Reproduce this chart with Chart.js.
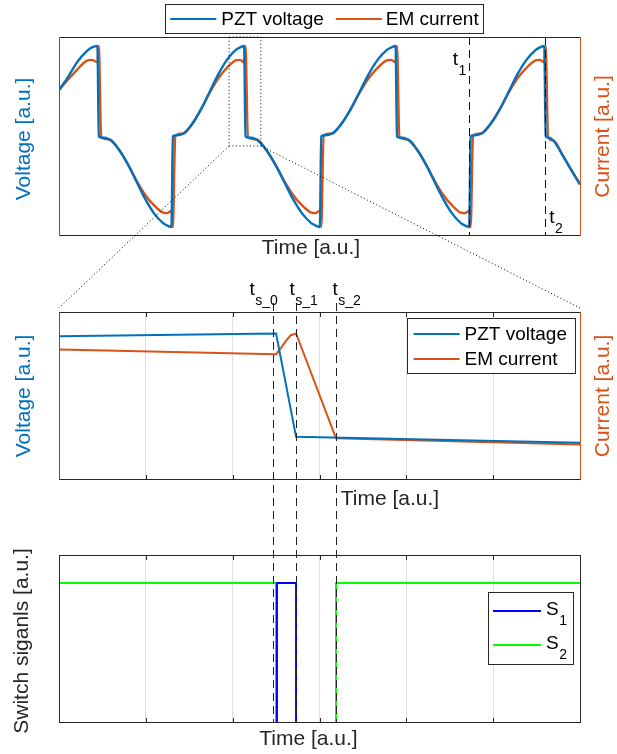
<!DOCTYPE html>
<html lang="en">
<head>
<meta charset="utf-8">
<title>PZT voltage / EM current switching</title>
<script src="https://cdn.jsdelivr.net/npm/chart.js@4.4.0/dist/chart.umd.min.js"></script>
<style>
  html,body{margin:0;padding:0;background:#fff;}
  #wrap{position:relative;width:617px;height:754px;}
  #wrap canvas{position:absolute;left:0;}
  #overlay{pointer-events:none;}
</style>
</head>
<body>
<div id="wrap">
  <canvas id="topChart" width="617" height="260" style="top:0"></canvas>
  <canvas id="midChart" width="617" height="250" style="top:260px"></canvas>
  <canvas id="botChart" width="617" height="244" style="top:510px"></canvas>
  <canvas id="overlay" width="617" height="754" style="top:0"></canvas>
</div>
<script>
/* ---------- data ---------- */
const seriesNames = ['PZT voltage', 'EM current'];
const switchNames = ['S', 'S'];
const switchSubs  = ['1', '2'];

// top panel: several switching periods (time and levels in a.u.)
const topTime = [
  0, 8.5, 18, 27.5, 33,
  38.4, 39.8, 42.2,
  50.6, 59.8, 68.9, 77.3, 85.7, 94.8, 104.0, 108.2,
  112.4, 113.8, 116.2,
  124.5, 133.4, 142.3, 150.6, 158.9, 167.8, 176.7, 180.9,
  185.0, 186.4, 188.8,
  197.4, 206.8, 216.1, 224.8, 233.4, 242.7, 252.1, 256.4,
  260.7, 262.1, 264.5,
  273.1, 282.5, 291.8, 300.5, 309.1, 318.4, 327.8, 332.1,
  336.4, 337.8, 340.2,
  348.6, 357.7, 366.7, 375.1, 383.5, 392.6, 401.6, 405.8,
  410.0, 411.4, 413.8,
  422.3, 431.6, 440.9, 449.4, 457.9, 467.2, 476.5, 480.7,
  485.0, 486.4, 488.8,
  494, 504, 514, 520.7
];
const topVoltage = [
  0.467, 0.59, 0.745, 0.855, 0.895,
  0.91, 0.0, -0.01,
  -0.03, -0.13, -0.28, -0.45, -0.62, -0.77, -0.87, -0.895,
  -0.91, 0.0, 0.01,
  0.03, 0.13, 0.28, 0.45, 0.62, 0.77, 0.87, 0.895,
  0.91, 0.0, -0.01,
  -0.03, -0.13, -0.28, -0.45, -0.62, -0.77, -0.87, -0.895,
  -0.91, 0.0, 0.01,
  0.03, 0.13, 0.28, 0.45, 0.62, 0.77, 0.87, 0.895,
  0.91, 0.0, -0.01,
  -0.03, -0.13, -0.28, -0.45, -0.62, -0.77, -0.87, -0.895,
  -0.91, 0.0, 0.01,
  0.03, 0.13, 0.28, 0.45, 0.62, 0.77, 0.87, 0.895,
  0.91, 0.0, -0.01,
  -0.04, -0.2, -0.37, -0.48
];
const topCurrent = [
  0.467, 0.565, 0.67, 0.76, 0.77,
  0.745, 0.91, -0.01,
  -0.03, -0.13, -0.28, -0.44, -0.58, -0.69, -0.765, -0.77,
  -0.745, -0.91, 0.01,
  0.03, 0.13, 0.28, 0.44, 0.58, 0.69, 0.765, 0.77,
  0.745, 0.91, -0.01,
  -0.03, -0.13, -0.28, -0.44, -0.58, -0.69, -0.765, -0.77,
  -0.745, -0.91, 0.01,
  0.03, 0.13, 0.28, 0.44, 0.58, 0.69, 0.765, 0.77,
  0.745, 0.91, -0.01,
  -0.03, -0.13, -0.28, -0.44, -0.58, -0.69, -0.765, -0.77,
  -0.745, -0.91, 0.01,
  0.03, 0.13, 0.28, 0.44, 0.58, 0.69, 0.765, 0.77,
  0.745, 0.91, -0.01,
  -0.04, -0.2, -0.37, -0.48
];
const markerTimes = [410.0, 485.6];       // t1, t2
const markerSubs  = ['1', '2'];
const zoomTime  = [170, 201.7];           // dotted zoom window
const zoomLevel = [-0.095, 1.0];

// middle panel: one switching event
const midVoltTime = [0, 2.50, 2.73, 6];
const midVolt     = [8.56, 8.72, 2.57, 2.22];
const midCurrTime = [0, 2.50, 2.56, 2.62, 2.67, 2.73, 3.19, 6];
const midCurr     = [7.77, 7.49, 7.88, 8.32, 8.62, 8.72, 2.48, 2.12];
const tsTimes = [2.47, 2.73, 3.19];
const tsSubs  = ['s_0', 's_1', 's_2'];

// bottom panel: switch signals
const s1Time  = [0, 2.51, 2.73, 6];
const s1Level = [0, 1, 0, 0];
const s2Time  = [0, 2.50, 3.19, 6];
const s2Level = [1, 0, 1, 1];

/* ---------- styling helpers ---------- */
const BLUE = '#0072BD', ORANGE = '#D95319', AX = '#262626', GRID = '#dfdfdf';
const FONT = '"Liberation Sans", Arial, Helvetica, sans-serif';
Chart.defaults.font.family = FONT;

const pts = (xs, ys) => xs.map((x, i) => ({x: x, y: ys[i]}));

function frame(chart, leftColor, rightColor) {
  const {ctx, chartArea: a} = chart;
  const L = Math.round(a.left) + 0.5, R = Math.round(a.right) + 0.5;
  const T = Math.round(a.top) + 0.5, B = Math.round(a.bottom) - 0.5;
  ctx.save();
  ctx.lineWidth = 1; ctx.setLineDash([]);
  ctx.strokeStyle = AX;
  ctx.beginPath(); ctx.moveTo(L, T); ctx.lineTo(R, T); ctx.moveTo(L, B); ctx.lineTo(R, B); ctx.stroke();
  ctx.strokeStyle = leftColor;
  ctx.beginPath(); ctx.moveTo(L, T); ctx.lineTo(L, B); ctx.stroke();
  ctx.strokeStyle = rightColor;
  ctx.beginPath(); ctx.moveTo(R, T); ctx.lineTo(R, B); ctx.stroke();
  ctx.restore();
}

function tickMarks(chart) {
  const {ctx, chartArea: a, scales: {x}} = chart;
  ctx.save();
  ctx.strokeStyle = AX; ctx.lineWidth = 1;
  ctx.beginPath();
  x.ticks.forEach(t => {
    const px = Math.round(x.getPixelForValue(t.value)) + 0.5;
    ctx.moveTo(px, a.bottom); ctx.lineTo(px, a.bottom - 5);
    ctx.moveTo(px, a.top); ctx.lineTo(px, a.top + 5);
  });
  ctx.stroke();
  ctx.restore();
}

function label(ctx, text, x, y, color, rot) {
  ctx.save();
  ctx.translate(x, y);
  if (rot) ctx.rotate(rot);
  ctx.font = '21px ' + FONT;
  ctx.fillStyle = color; ctx.textAlign = 'center'; ctx.textBaseline = 'middle';
  ctx.fillText(text, 0, 0);
  ctx.restore();
}

// base text with a subscript; x = left edge, y = baseline
function subText(ctx, base, sub, x, y, color) {
  ctx.save();
  ctx.fillStyle = color; ctx.textAlign = 'left'; ctx.textBaseline = 'alphabetic';
  ctx.font = '19px ' + FONT;
  ctx.fillText(base, x, y);
  const w = ctx.measureText(base).width;
  ctx.font = '14px ' + FONT;
  ctx.fillText(sub, x + w + 0.5, y + 9.5);
  ctx.restore();
}

function legendBox(ctx, x, y, w, h) {
  ctx.save();
  ctx.fillStyle = '#fff'; ctx.fillRect(x, y, w, h);
  ctx.strokeStyle = AX; ctx.lineWidth = 1; ctx.setLineDash([]);
  ctx.strokeRect(Math.round(x) + 0.5, Math.round(y) + 0.5, Math.round(w), Math.round(h));
  ctx.restore();
}

function legendLine(ctx, x0, x1, y, color) {
  ctx.save();
  ctx.strokeStyle = color; ctx.lineWidth = 2; ctx.setLineDash([]);
  ctx.beginPath(); ctx.moveTo(x0, y); ctx.lineTo(x1, y); ctx.stroke();
  ctx.restore();
}

/* ---------- top panel ---------- */
const topChart = new Chart(document.getElementById('topChart'), {
  type: 'line',
  data: {
    datasets: [
      {label: seriesNames[0], data: pts(topTime, topVoltage), borderColor: BLUE, borderWidth: 2.4, yAxisID: 'y'},
      {label: seriesNames[1], data: pts(topTime, topCurrent), borderColor: ORANGE, borderWidth: 2.4, yAxisID: 'y1'}
    ]
  },
  options: {
    responsive: false, animation: false, events: [],
    layout: {autoPadding: false, padding: {left: 59, right: 37, top: 37, bottom: 24}},
    elements: {point: {radius: 0}, line: {cubicInterpolationMode: 'monotone', fill: false}},
    plugins: {legend: {display: false}, tooltip: {enabled: false}},
    scales: {
      x: {type: 'linear', min: 0, max: 520.7, display: false},
      y: {min: -1, max: 1, display: false},
      y1: {min: -1, max: 1, display: false, position: 'right'}
    }
  },
  plugins: [{
    id: 'topDecor',
    afterDatasetsDraw(chart) {
      const {ctx, chartArea: a, scales: {x}} = chart;
      // t1 / t2 markers
      ctx.save();
      ctx.strokeStyle = '#111'; ctx.lineWidth = 1; ctx.setLineDash([8, 5]);
      markerTimes.forEach(t => {
        const px = Math.round(x.getPixelForValue(t)) + 0.5;
        ctx.beginPath(); ctx.moveTo(px, a.top); ctx.lineTo(px, a.bottom); ctx.stroke();
      });
      ctx.restore();
      const m1 = x.getPixelForValue(markerTimes[0]), m2 = x.getPixelForValue(markerTimes[1]);
      subText(ctx, 't', markerSubs[0], m1 - 16.6, a.top + 28, '#000');
      subText(ctx, 't', markerSubs[1], m2 + 4.3, a.bottom - 13, '#000');

      frame(chart, BLUE, ORANGE);

      // horizontal legend above the axes
      ctx.font = '19px ' + FONT;
      const w1 = ctx.measureText(seriesNames[0]).width, w2 = ctx.measureText(seriesNames[1]).width;
      const bw = 5 + 46 + 5 + w1 + 12 + 46 + 4 + w2 + 5, bh = 29;
      const bx = (a.left + a.right) / 2 + 5 - bw / 2, by = a.top - 33;
      legendBox(ctx, bx, by, bw, bh);
      const ly = by + 15;
      legendLine(ctx, bx + 5, bx + 51, ly, BLUE);
      legendLine(ctx, bx + 68 + w1, bx + 114 + w1, ly, ORANGE);
      ctx.save();
      ctx.fillStyle = '#000'; ctx.textAlign = 'left'; ctx.textBaseline = 'middle'; ctx.font = '19px ' + FONT;
      ctx.fillText(seriesNames[0], bx + 56, ly + 1);
      ctx.fillText(seriesNames[1], bx + 118 + w1, ly + 1);
      ctx.restore();

      const cy = (a.top + a.bottom) / 2;
      label(ctx, 'Time [a.u.]', 311, a.bottom + 12, AX);
      label(ctx, 'Voltage [a.u.]', 24, cy + 2.5, BLUE, -Math.PI / 2);
      label(ctx, 'Current [a.u.]', 603, cy, ORANGE, -Math.PI / 2);
    }
  }]
});

/* ---------- middle panel ---------- */
const gridX = {
  type: 'linear', min: 0, max: 6,
  ticks: {display: false, stepSize: 1},
  grid: {color: GRID, lineWidth: 1, drawTicks: false},
  border: {display: false}
};

const midChart = new Chart(document.getElementById('midChart'), {
  type: 'line',
  data: {
    datasets: [
      {label: seriesNames[0], data: pts(midVoltTime, midVolt), borderColor: BLUE, borderWidth: 2, yAxisID: 'y'},
      {label: seriesNames[1], data: pts(midCurrTime, midCurr), borderColor: ORANGE, borderWidth: 2, yAxisID: 'y1'}
    ]
  },
  options: {
    responsive: false, animation: false, events: [],
    layout: {autoPadding: false, padding: {left: 59, right: 37, top: 52, bottom: 30}},
    elements: {point: {radius: 0}, line: {tension: 0, fill: false}},
    plugins: {legend: {display: false}, tooltip: {enabled: false}},
    scales: {
      x: gridX,
      y: {min: 0, max: 10, display: false},
      y1: {min: 0, max: 10, display: false, position: 'right'}
    }
  },
  plugins: [{
    id: 'midDecor',
    afterDatasetsDraw(chart) {
      const {ctx, chartArea: a} = chart;
      tickMarks(chart);
      frame(chart, BLUE, ORANGE);

      ctx.font = '19px ' + FONT;
      const tw = Math.max(ctx.measureText(seriesNames[0]).width, ctx.measureText(seriesNames[1]).width);
      const bw = 7 + 46 + 5 + tw + 8, bh = 55;
      const bx = a.right - 5 - bw, by = a.top + 6;
      legendBox(ctx, bx, by, bw, bh);
      [BLUE, ORANGE].forEach((c, i) => {
        const ry = by + 16 + i * 25;
        legendLine(ctx, bx + 7, bx + 53, ry, c);
        ctx.save();
        ctx.fillStyle = '#000'; ctx.textAlign = 'left'; ctx.textBaseline = 'middle'; ctx.font = '19px ' + FONT;
        ctx.fillText(seriesNames[i], bx + 58, ry + 1);
        ctx.restore();
      });

      const cy = (a.top + a.bottom) / 2;
      label(ctx, 'Time [a.u.]', 390, a.bottom + 19, AX);
      label(ctx, 'Voltage [a.u.]', 24, cy, BLUE, -Math.PI / 2);
      label(ctx, 'Current [a.u.]', 603, cy, ORANGE, -Math.PI / 2);
    }
  }]
});

/* ---------- bottom panel ---------- */
const botChart = new Chart(document.getElementById('botChart'), {
  type: 'line',
  data: {
    datasets: [
      {label: 'S1', data: pts(s1Time, s1Level), borderColor: '#0000FF', borderWidth: 2, stepped: 'before', clip: 0},
      {label: 'S2', data: pts(s2Time, s2Level), borderColor: '#00FF00', borderWidth: 2, stepped: 'before', clip: 0}
    ]
  },
  options: {
    responsive: false, animation: false, events: [],
    layout: {autoPadding: false, padding: {left: 59, right: 37, top: 45, bottom: 31}},
    elements: {point: {radius: 0}, line: {tension: 0, fill: false}},
    plugins: {legend: {display: false}, tooltip: {enabled: false}},
    scales: {
      x: gridX,
      y: {min: 0, max: 1.2, display: false}
    }
  },
  plugins: [{
    id: 'botDecor',
    afterDatasetsDraw(chart) {
      const {ctx, chartArea: a} = chart;
      tickMarks(chart);
      frame(chart, AX, AX);

      const bw = 85, bh = 72;
      const bx = a.right - 7 - bw, by = a.top + 37;
      legendBox(ctx, bx, by, bw, bh);
      ['#0000FF', '#00FF00'].forEach((c, i) => {
        const ry = by + 19 + i * 34;
        legendLine(ctx, bx + 5, bx + 53, ry, c);
        subText(ctx, switchNames[i], switchSubs[i], bx + 58, ry + 4, '#000');
      });

      label(ctx, 'Time [a.u.]', 308.5, a.bottom + 16, AX);
      label(ctx, 'Switch siganls [a.u.]', 22.5, (a.top + a.bottom) / 2 + 2, AX, -Math.PI / 2);
    }
  }]
});

/* ---------- zoom connectors and switching instants across panels ---------- */
(function drawOverlay() {
  const ctx = document.getElementById('overlay').getContext('2d');
  const oT = topChart.canvas.offsetTop, oM = midChart.canvas.offsetTop, oB = botChart.canvas.offsetTop;
  const tx = topChart.scales.x, ty = topChart.scales.y;
  const x0 = tx.getPixelForValue(zoomTime[0]), x1 = tx.getPixelForValue(zoomTime[1]);
  const y0 = oT + ty.getPixelForValue(zoomLevel[1]), y1 = oT + ty.getPixelForValue(zoomLevel[0]);
  const ma = midChart.chartArea, ba = botChart.chartArea;

  ctx.save();
  ctx.strokeStyle = '#000'; ctx.lineWidth = 1; ctx.setLineDash([1, 2.5]);
  ctx.beginPath();
  ctx.rect(x0, y0, x1 - x0, y1 - y0);
  ctx.moveTo(x0, y1); ctx.lineTo(ma.left, oM + ma.top - 4);
  ctx.moveTo(x1, y1); ctx.lineTo(ma.right, oM + ma.top - 4);
  ctx.stroke();

  ctx.strokeStyle = '#222'; ctx.setLineDash([8, 5]);
  const yStart = oM + ma.top - 9, yEnd = oB + ba.bottom;
  const labelDx = [-24, -7, -4];
  tsTimes.forEach((t, i) => {
    const px = Math.round(midChart.scales.x.getPixelForValue(t)) + 0.5;
    ctx.beginPath(); ctx.moveTo(px, yStart); ctx.lineTo(px, yEnd); ctx.stroke();
    subText(ctx, 't', tsSubs[i], px + labelDx[i], oM + ma.top - 17, '#000');
  });
  ctx.restore();
})();
</script>
</body>
</html>
